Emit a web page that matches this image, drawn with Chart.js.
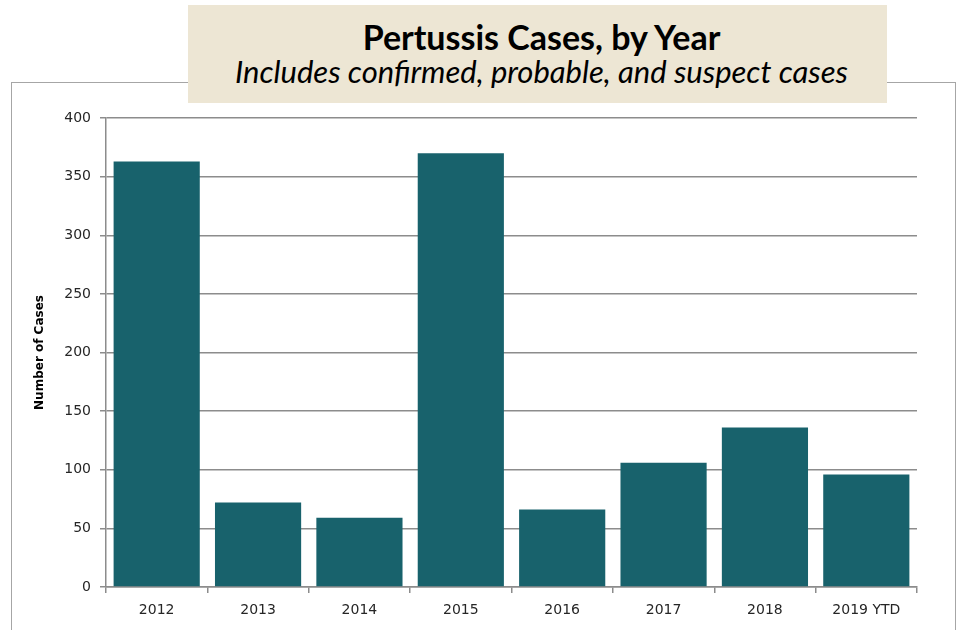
<!DOCTYPE html>
<html>
<head>
<meta charset="utf-8">
<script src="https://cdn.jsdelivr.net/npm/chart.js@4/dist/chart.umd.min.js"></script>
<style>
  html, body { margin: 0; padding: 0; background: #ffffff; }
  #wrap { position: relative; width: 959px; height: 630px; overflow: hidden; background: #fff; }
  #frame { position: absolute; left: 11px; top: 82px; width: 945px; height: 560px; border: 1.5px solid #a6a6a6; box-sizing: border-box; }
  #cv { position: absolute; left: 0; top: 0; }
  #titlebox { position: absolute; left: 188px; top: 5px; width: 699px; height: 98px; background: #ede6d4; text-align: center; font-family: Lato, "Open Sans", sans-serif; color: #000; }
  #t1 { position: absolute; left: 8px; right: 0; top: 13px; font-size: 34px; font-weight: bold; line-height: 38px; white-space: nowrap; }
  #t2 { position: absolute; left: 8px; right: 0; top: 48px; font-size: 31px; font-style: italic; line-height: 36px; white-space: nowrap; }
</style>
</head>
<body>
<div id="wrap">
  <div id="frame"></div>
  <canvas id="cv" width="959" height="630"></canvas>
  <div id="titlebox">
    <div id="t1">Pertussis Cases, by Year</div>
    <div id="t2">Includes confirmed, probable, and suspect cases</div>
  </div>
</div>
<script>
const categories = ["2012", "2013", "2014", "2015", "2016", "2017", "2018", "2019 YTD"];
const cases = [363, 72, 59, 370, 66, 106, 136, 96];
const yTicks = [0, 50, 100, 150, 200, 250, 300, 350, 400];
const yAxisTitle = "Number of Cases";

const tickFont = { family: "'DejaVu Sans', Verdana, sans-serif", size: 14 };

new Chart(document.getElementById('cv'), {
  type: 'bar',
  data: {
    labels: categories,
    datasets: [{
      data: cases,
      backgroundColor: '#18626c',
      borderWidth: 0,
      barPercentage: 0.85,
      categoryPercentage: 1.0
    }]
  },
  options: {
    responsive: false,
    animation: false,
    events: [],
    layout: { padding: { left: 0, right: 42, top: 118, bottom: 0 } },
    plugins: { legend: { display: false }, tooltip: { enabled: false }, title: { display: false } },
    scales: {
      x: {
        afterFit: s => { s.height = 43; },
        grid: { display: true, drawOnChartArea: false, drawTicks: true, tickLength: 6, color: '#8c8c8c', lineWidth: 1.5, offset: true },
        border: { display: true, color: '#8c8c8c', width: 1.5 },
        ticks: { color: '#262626', font: tickFont, padding: 9, maxRotation: 0 }
      },
      y: {
        min: 0, max: 400,
        afterFit: s => { s.width = 106; },
        afterBuildTicks: s => { s.ticks = yTicks.map(v => ({ value: v })); },
        grid: { color: '#8c8c8c', lineWidth: 1.5, tickLength: 6 },
        border: { display: true, color: '#8c8c8c', width: 1.5 },
        ticks: { color: '#262626', font: tickFont, padding: 9 },
        title: {
          display: true, text: yAxisTitle, color: '#000',
          font: { family: "'DejaVu Sans', Verdana, sans-serif", size: 12, weight: 'bold' },
          padding: { top: 33, bottom: 0 }
        }
      }
    }
  }
});
</script>
</body>
</html>
